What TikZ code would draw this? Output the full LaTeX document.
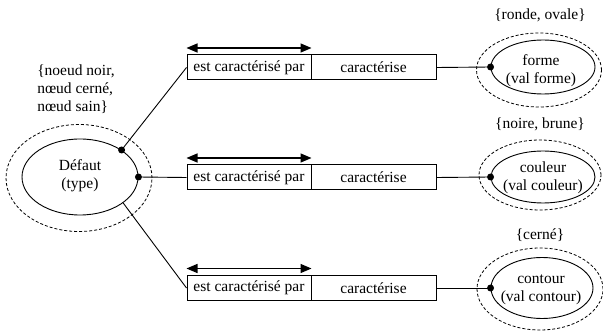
\documentclass[tikz,border=0pt]{standalone}
\usepackage{fontspec}
\setmainfont{Liberation Serif}
\usetikzlibrary{shapes.geometric,arrows.meta}
\begin{document}
\begin{tikzpicture}[x=1pt,y=-1pt,
 txt/.style={font=\rmfamily\fontsize{15.5}{18}\selectfont, inner sep=0pt},
 inell/.style={draw, ellipse, line width=0.9pt, inner sep=0pt},
 outell/.style={draw, ellipse, dash pattern=on 3pt off 2pt, line width=0.8pt, inner sep=0pt},
 cell/.style={draw, line width=1pt, minimum height=25pt, inner sep=0pt, font=\rmfamily\fontsize{15.5}{18.5}\selectfont},
 conn/.style={line width=0.9pt},
 dotm/.style={fill, circle, inner sep=0pt, minimum size=7pt},
 dbl/.style={{Triangle[length=11pt,width=9pt]}-{Triangle[length=11pt,width=9pt]}, line width=1.3pt},
]
\useasboundingbox (0,0) rectangle (603,331);

% left entity
\node[outell, minimum width=146pt, minimum height=107pt] (defout) at (79,178) {};
\node[inell, minimum width=116pt, minimum height=76pt] (def) at (80,177) {};
\node[txt, align=center] (deft) at (80,176) {Défaut\\(type)};
\node[txt, align=left] (deflab) at (76,89) {\{noeud noir,\\nœud cerné,\\nœud sain\}};

% boxes
\node[cell, minimum width=124pt] (b1l) at (249,67.5) {est caractérisé par};
\node[cell, minimum width=125pt] (b1r) at (373.5,67.5) {caractérise};
\node[cell, minimum width=124pt] (b2l) at (249,177.5) {est caractérisé par};
\node[cell, minimum width=125pt] (b2r) at (373.5,177.5) {caractérise};
\node[cell, minimum width=124pt] (b3l) at (249,288) {est caractérisé par};
\node[cell, minimum width=125pt] (b3r) at (373.5,288) {caractérise};

\draw[dbl] ([yshift=6.5pt]b1l.north west) -- ([yshift=6.5pt]b1l.north east);
\draw[dbl] ([yshift=6.5pt]b2l.north west) -- ([yshift=6.5pt]b2l.north east);
\draw[dbl] ([yshift=6.5pt]b3l.north west) -- ([yshift=6.5pt]b3l.north east);

% right entities
\node[outell, minimum width=125pt, minimum height=74pt] (formeout) at (539,70) {};
\node[inell, minimum width=104pt, minimum height=54pt] (forme) at (543,67) {};
\node[txt, align=center] (formet) at (541,71) {forme\\(val forme)};
\node[txt] (formelab) at (540,15) {\{ronde, ovale\}};

\node[outell, minimum width=122pt, minimum height=70pt] (couleurout) at (540,175) {};
\node[inell, minimum width=104pt, minimum height=52pt] (couleur) at (543,177) {};
\node[txt, align=center] (couleurt) at (543,177.5) {couleur\\(val couleur)};
\node[txt] (couleurlab) at (540,124) {\{noire, brune\}};

\node[outell, minimum width=126pt, minimum height=82pt] (contourout) at (540,289) {};
\node[inell, minimum width=102pt, minimum height=61pt] (contour) at (542,288) {};
\node[txt, align=center] (contourt) at (541,289.5) {contour\\(val contour)};
\node[txt] (contourlab) at (540,235) {\{cerné\}};

% connectors
\draw[conn] (def.33) -- (b1l.west);
\draw[conn] (def.east) -- (b2l.west);
\draw[conn] (def.-31) -- (b3l.west);
\draw[conn] (b1r.east) -- (forme.west);
\draw[conn] (b2r.east) -- (couleur.west);
\draw[conn] (b3r.east) -- (contour.west);

\node[dotm] (dd1) at (def.33) {};
\node[dotm] (dd2) at (def.east) {};
\node[dotm] (df) at (forme.west) {};
\node[dotm] (dc) at (couleur.west) {};
\node[dotm] (dt) at (contour.west) {};
\end{tikzpicture}
\end{document}
